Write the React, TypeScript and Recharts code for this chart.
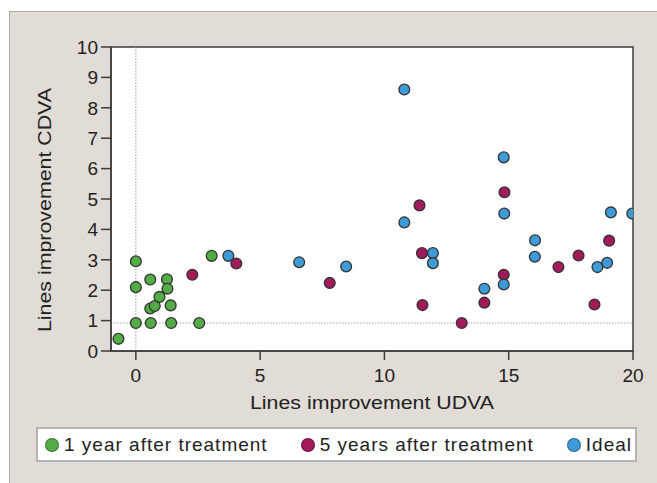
import {
  CartesianGrid,
  ReferenceArea,
  ReferenceLine,
  Scatter,
  ScatterChart,
  XAxis,
  YAxis,
} from "recharts";

const FONT = '"Liberation Sans", Arial, Helvetica, sans-serif';

const X_TICKS = [0, 5, 10, 15, 20];
const Y_TICKS = [0, 1, 2, 3, 4, 5, 6, 7, 8, 9, 10];

const oneYear = [
  { x: -0.7, y: 0.4 },
  { x: 0, y: 2.95 },
  { x: 0, y: 2.1 },
  { x: 0, y: 0.92 },
  { x: 0.58, y: 2.35 },
  { x: 0.6, y: 0.92 },
  { x: 0.58, y: 1.4 },
  { x: 0.76, y: 1.48 },
  { x: 0.95, y: 1.78 },
  { x: 1.25, y: 2.36 },
  { x: 1.27, y: 2.05 },
  { x: 1.4, y: 1.5 },
  { x: 1.42, y: 0.92 },
  { x: 2.55, y: 0.92 },
  { x: 3.05, y: 3.13 },
];

const fiveYears = [
  { x: 2.27, y: 2.51 },
  { x: 4.04, y: 2.88 },
  { x: 7.8, y: 2.24 },
  { x: 11.41, y: 4.79 },
  { x: 11.51, y: 3.22 },
  { x: 11.53, y: 1.51 },
  { x: 13.11, y: 0.92 },
  { x: 14.02, y: 1.59 },
  { x: 14.83, y: 5.22 },
  { x: 14.8, y: 2.51 },
  { x: 17.0, y: 2.76 },
  { x: 17.81, y: 3.14 },
  { x: 18.45, y: 1.53 },
  { x: 19.04, y: 3.63 },
];

const ideal = [
  { x: 3.72, y: 3.13 },
  { x: 6.57, y: 2.92 },
  { x: 8.46, y: 2.78 },
  { x: 10.8, y: 8.6 },
  { x: 10.8, y: 4.23 },
  { x: 11.95, y: 3.22 },
  { x: 11.95, y: 2.89 },
  { x: 14.02, y: 2.05 },
  { x: 14.8, y: 6.37 },
  { x: 14.82, y: 4.52 },
  { x: 14.8, y: 2.19 },
  { x: 16.06, y: 3.64 },
  { x: 16.05, y: 3.1 },
  { x: 18.57, y: 2.76 },
  { x: 18.96, y: 2.9 },
  { x: 19.11, y: 4.56 },
  { x: 19.97, y: 4.52 },
];

const SERIES = [
  { name: "1 year after treatment", color: "#52ae44", data: oneYear },
  { name: "5 years after treatment", color: "#a21a5c", data: fiveYears },
  { name: "Ideal", color: "#3d9bd8", data: ideal },
];

const TICK = { fontSize: 19, fill: "#222", fontFamily: FONT };
const AXIS = { stroke: "#3c3c3c", strokeWidth: 1.5 };

function Dot(props: any) {
  const { cx, cy, fill } = props;
  if (cx == null || cy == null) return null;
  return <circle cx={cx} cy={cy} r={5.4} fill={fill} stroke="#333" strokeWidth={1.3} />;
}

export default function App() {
  return (
    <div style={{ position: "absolute", left: 0, top: 0, width: 657, height: 483, background: "#fff", overflow: "hidden", fontFamily: FONT }}>
      <div
        style={{
          position: "absolute",
          left: 9,
          top: 11,
          width: 660,
          height: 480,
          background: "#e1dcd6",
          borderLeft: "1.5px solid #a9a9a9",
          borderTop: "1.5px solid #a9a9a9",
        }}
      />
      <div style={{ position: "absolute", left: 0, top: 0 }}>
        <ScatterChart width={657} height={483} margin={{ top: 47, right: 24, left: 0, bottom: 92 }}>
          <CartesianGrid horizontal={false} vertical={false} fill="#fff" />
          <XAxis
            dataKey="x"
            type="number"
            domain={[-1, 20]}
            ticks={X_TICKS}
            allowDataOverflow
            height={40}
            fontSize={19}
            tick={TICK}
            tickSize={9}
            tickMargin={9}
            axisLine={AXIS}
            tickLine={AXIS}
            label={{
              content: () => (
                <text x={372} y={409} textAnchor="middle" fontSize={18} fill="#222" fontFamily={FONT} textLength={244} lengthAdjust="spacingAndGlyphs">
                  Lines improvement UDVA
                </text>
              ),
            }}
          />
          <YAxis
            dataKey="y"
            type="number"
            domain={[0, 10]}
            ticks={Y_TICKS}
            allowDataOverflow
            width={111}
            fontSize={19}
            tick={TICK}
            tickSize={10}
            tickMargin={3}
            axisLine={AXIS}
            tickLine={AXIS}
            label={{
              content: () => (
                <text x={51} y={210} transform="rotate(-90 51 210)" textAnchor="middle" fontSize={18} fill="#222" fontFamily={FONT} textLength={244} lengthAdjust="spacingAndGlyphs">
                  Lines improvement CDVA
                </text>
              ),
            }}
          />
          <ReferenceLine x={0} stroke="#a0a0a0" strokeDasharray="1.5 1.5" strokeWidth={1} />
          <ReferenceLine y={0.92} stroke="#a0a0a0" strokeDasharray="1.5 1.5" strokeWidth={1} />
          <ReferenceArea x1={-1} x2={20} y1={0} y2={10} fill="none" stroke="#3c3c3c" strokeWidth={1.5} ifOverflow="visible" />
          {SERIES.map((s) => (
            <Scatter key={s.name} name={s.name} data={s.data} fill={s.color} shape={Dot} isAnimationActive={false} />
          ))}
        </ScatterChart>
      </div>
      <div
        style={{
          position: "absolute",
          left: 36,
          top: 427,
          width: 601,
          height: 35,
          boxSizing: "border-box",
          background: "#fff",
          border: "2px solid #b3b3b3",
          display: "flex",
          alignItems: "center",
          paddingLeft: 7,
          gap: 33,
          fontSize: 19,
          letterSpacing: 1,
          color: "#222",
        }}
      >
        {SERIES.map((s) => (
          <div key={s.name} style={{ display: "flex", alignItems: "center", whiteSpace: "nowrap" }}>
            <span
              style={{
                display: "inline-block",
                width: 12,
                height: 12,
                borderRadius: "50%",
                background: s.color,
                border: "1px solid rgba(0,0,0,0.35)",
                marginRight: 5,
              }}
            />
            <span>{s.name}</span>
          </div>
        ))}
      </div>
    </div>
  );
}
